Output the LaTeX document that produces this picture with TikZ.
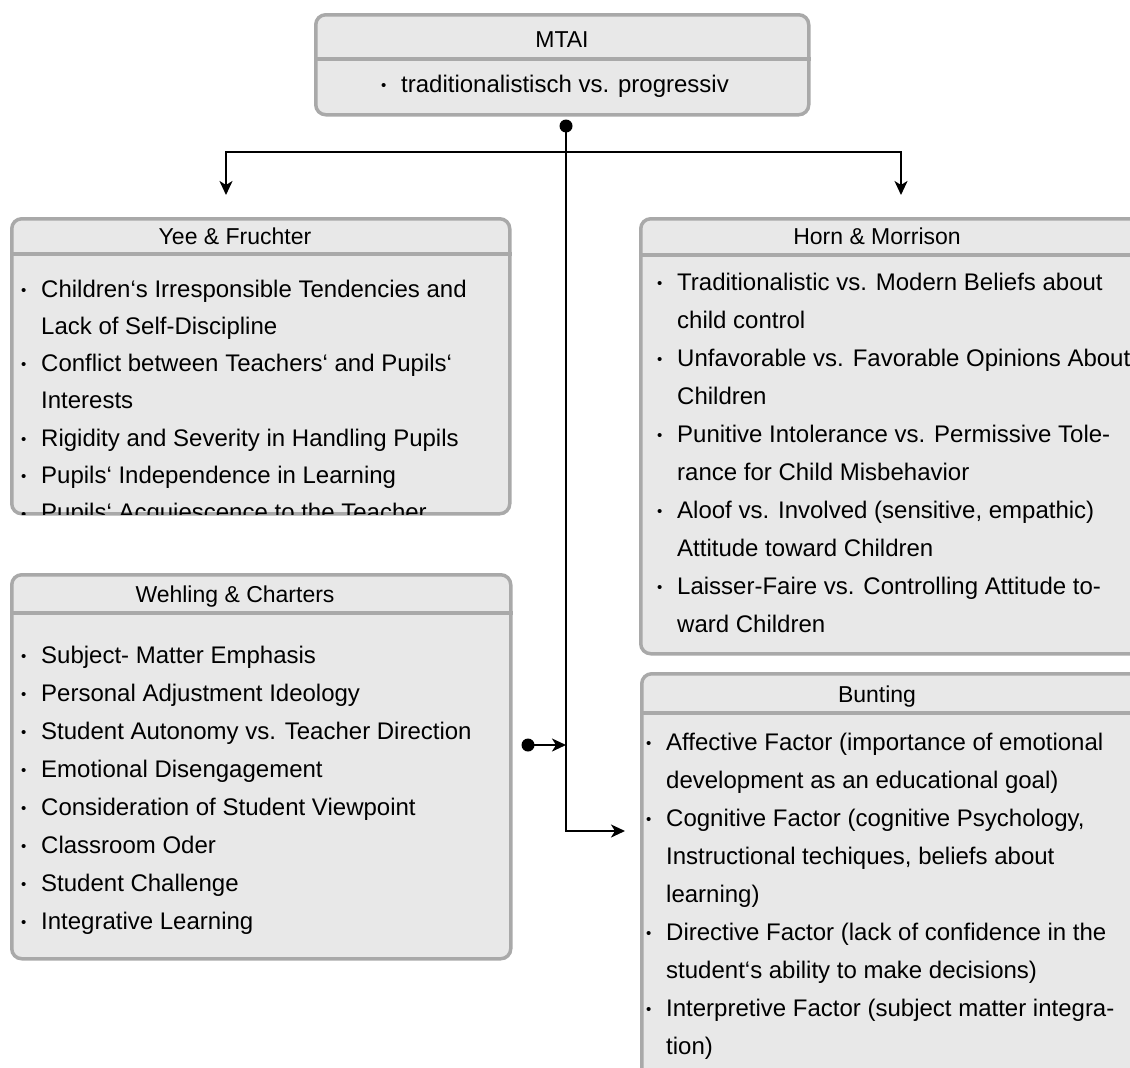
\documentclass[tikz,border=0pt]{standalone}
\usepackage{fontspec}
\setmainfont{Liberation Sans}
\usetikzlibrary{arrows.meta}
\definecolor{panelfill}{HTML}{E8E8E8}
\definecolor{panelline}{HTML}{A9A9A9}
\newcommand{\bulletdot}{\raisebox{1.8pt}{\fontsize{15}{15}\selectfont\textbullet}}
\newcommand{\itm}{\makebox[20pt][l]{\bulletdot}}
\newcommand{\cont}{\hspace*{20pt}}
\newcommand{\rows}[1]{\vtop{\halign{##\hfil\cr#1\crcr}}}
\begin{document}
\begin{tikzpicture}
    [
    x=1pt, y=-1pt,
    panel/.style={rectangle,rounded corners=10pt,draw=panelline,fill=panelfill,line width=3.5pt,inner sep=0pt,anchor=north west},
    divider/.style={draw=panelline,line width=3.5pt},
    title/.style={anchor=base,inner sep=0pt,font=\fontsize{23}{28}\selectfont},
    body/.style={anchor=base west,inner sep=0pt,font=\fontsize{24}{38}\selectfont},
    junction/.style={circle,fill=black,inner sep=0pt,minimum size=13pt},
    link/.style={line width=2pt,-{Stealth[length=14pt,width=13pt,inset=4pt]}},
    fork/.style={line width=2pt,{Stealth[length=14pt,width=13pt,inset=4pt]}-{Stealth[length=14pt,width=13pt,inset=4pt]}}
    ]
    \clip (0,0) rectangle (1130,1068);
    % boxes
    \node (mtai) at (314,13) [panel,minimum width=493pt,minimum height=100pt] {};
    \node (yee) at (10,217) [panel,minimum width=498pt,minimum height=295pt] {};
    \node (horn) at (639,217) [panel,minimum width=506pt,minimum height=435pt] {};
    \node (wehling) at (10,573) [panel,minimum width=499pt,minimum height=384pt] {};
    \node (bunting) at (640,672) [panel,minimum width=505pt,minimum height=410pt] {};
    \draw [divider] ([yshift=-46pt]mtai.north west) -- ([yshift=-46pt]mtai.north east);
    \draw [divider] ([yshift=-37pt]yee.north west) -- ([yshift=-37pt]yee.north east);
    \draw [divider] ([yshift=-38pt]horn.north west) -- ([yshift=-38pt]horn.north east);
    \draw [divider] ([yshift=-40pt]wehling.north west) -- ([yshift=-40pt]wehling.north east);
    \draw [divider] ([yshift=-41pt]bunting.north west) -- ([yshift=-41pt]bunting.north east);
    % titles
    \node (mtaiT) at (562,47) [title] {MTAI};
    \node (yeeT) at (235,244) [title] {Yee \& Fruchter};
    \node (hornT) at (877,244) [title] {Horn \& Morrison};
    \node (wehlingT) at (235,602) [title] {Wehling \& Charters};
    \node (buntingT) at (877,702) [title] {Bunting};
    % contents
    \node (mtaiB) at (381,92) [body] {\itm traditionalistisch vs. progressiv};
    \begin{scope}
      \clip (yee.north west) rectangle ([yshift=1.5pt]yee.south east);
      \node (yeeB) at (21,297) [body,font=\fontsize{24}{37.3}\selectfont] {\rows{\itm Children‘s Irresponsible Tendencies and\cr
        \cont Lack of Self-Discipline\cr
        \itm Conflict between Teachers‘ and Pupils‘\cr
        \cont Interests\cr
        \itm Rigidity and Severity in Handling Pupils\cr
        \itm Pupils‘ Independence in Learning\cr
        \itm Pupils‘ Acquiescence to the Teacher}};
    \end{scope}
    \node (hornB) at (657,290) [body] {\rows{\itm Traditionalistic vs. Modern Beliefs about\cr
      \cont child control\cr
      \itm Unfavorable vs. Favorable Opinions About\cr
      \cont Children\cr
      \itm Punitive Intolerance vs. Permissive Tole-\cr
      \cont rance for Child Misbehavior\cr
      \itm Aloof vs. Involved (sensitive, empathic)\cr
      \cont Attitude toward Children\cr
      \itm Laisser-Faire vs. Controlling Attitude to-\cr
      \cont ward Children}};
    \node (wehlingB) at (21,663) [body] {\rows{\itm Subject- Matter Emphasis\cr
      \itm Personal Adjustment Ideology\cr
      \itm Student Autonomy vs. Teacher Direction\cr
      \itm Emotional Disengagement\cr
      \itm Consideration of Student Viewpoint\cr
      \itm Classroom Oder\cr
      \itm Student Challenge\cr
      \itm Integrative Learning}};
    \node (buntingB) at (646,750) [body] {\rows{\itm Affective Factor (importance of emotional\cr
      \cont development as an educational goal)\cr
      \itm Cognitive Factor (cognitive Psychology,\cr
      \cont Instructional techiques, beliefs about\cr
      \cont learning)\cr
      \itm Directive Factor (lack of confidence in the\cr
      \cont student‘s ability to make decisions)\cr
      \itm Interpretive Factor (subject matter integra-\cr
      \cont tion)}};
    % connectors
    \node (src) at (566,126) [junction] {};
    \node (wsrc) at (528,745) [junction] {};
    \coordinate (tipyee) at (226,195);
    \coordinate (forkL) at (226,152);
    \coordinate (forkR) at (901,152);
    \coordinate (tiphorn) at (901,195);
    \coordinate (bend) at (566,831);
    \coordinate (tipbunting) at (625,831);
    \coordinate (joinw) at (566,745);
    \draw [fork] (tipyee) -- (forkL) -- (forkR) -- (tiphorn);
    \draw [link] (src.center) -- (bend) -- (tipbunting);
    \draw [link] (wsrc.center) -- (joinw);
  \end{tikzpicture}
\end{document}
